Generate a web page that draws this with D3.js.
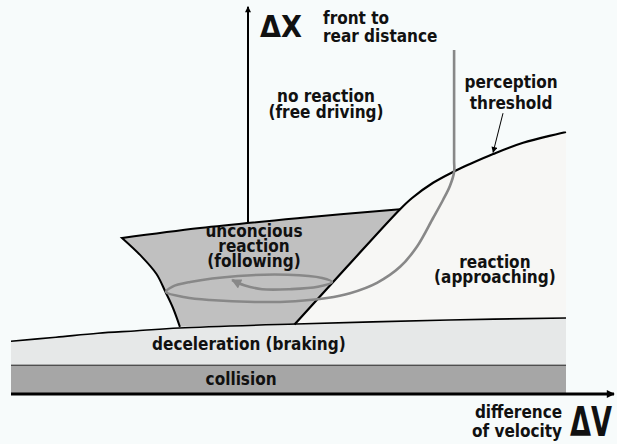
<!DOCTYPE html>
<html>
<head>
<meta charset="utf-8">
<script src="https://cdn.jsdelivr.net/npm/d3@7"></script>
<style>
  body { margin: 0; background: #f7fbfb; }
  svg { display: block; }
  text { font-family: "DejaVu Sans Condensed", "Liberation Sans", sans-serif; font-weight: bold; fill: #111; }
</style>
</head>
<body>
<div id="chart-area"></div>
<script>
// velocity difference (dv) and distance (dx) in arbitrary model units
const decelV = [-7.9, -6.4, -5.0, -3.7, -2.3, 1.6, 6.7, 10.6];
const decelDx = [6.6, 7.1, 7.6, 7.9, 8.25, 8.75, 9.25, 9.5];
const collisionDx = 3.6;

const thresholdV = [1.55, 3.3, 5.07, 5.47, 6.17, 6.83, 7.4, 8.17, 9.17, 10.6];
const thresholdDx = [8.7, 15.9, 23.1, 24.5, 26.4, 27.75, 28.75, 30, 31.4, 32.75];

const followTopV = [-4.2, -1.6, 1.73, 5.07];
const followTopDx = [19.5, 20.75, 22, 23.1];
const followLeftV = [-2.27, -2.5, -2.75, -3.05, -3.55, -4.2];
const followLeftDx = [8.4, 10.75, 12.75, 15.0, 17.2, 19.5];

const pathV = [6.87, 6.87, 6.87, 6.73, 6.5, 6.17, 5.63, 5.07, 4.3, 3.4, 2.63, 1.57, 0.23,
  -1.27, -2.1, -2.73, -2.53, -1.93, -0.33, 1.33, 2.47, 2.8, 2.33, 1.4, 0.47, -0.13, -0.53];
const pathDx = [43, 29.25, 27.75, 26, 24.25, 22, 18.4, 15.9, 13.9, 12.6, 12, 11.6, 11.5,
  11.75, 12.1, 12.75, 13.4, 14, 14.75, 14.9, 14.5, 14, 13.4, 13.1, 13.1, 13.6, 14.25];

const labels = [
  { lines: ["no reaction", "(free driving)"], v: 2.6, dx: 36.5, lh: 16, anchor: "middle" },
  { lines: ["unconcious", "reaction", "(following)"], v: 0.2, dx: 19.6, lh: 15, anchor: "middle" },
  { lines: ["reaction", "(approaching)"], v: 8.23, dx: 15.75, lh: 15, anchor: "middle" },
  { lines: ["perception", "threshold"], v: 8.77, dx: 38.25, lh: 21, anchor: "middle" },
  { lines: ["deceleration (braking)"], v: 0.03, dx: 5.5, lh: 15, anchor: "middle" },
  { lines: ["collision"], v: -0.23, dx: 1.12, lh: 15, anchor: "middle" },
  { lines: ["front to", "rear distance"], v: 2.5, dx: 46.25, lh: 18, anchor: "start" },
  { lines: ["difference", "of velocity"], v: 10.47, dx: -3, lh: 19, anchor: "end" }
];

const chartSize = { width: 617, height: 444 };

const x = d3.scaleLinear().domain([-7.9, 10.6]).range([11, 566]);
const y = d3.scaleLinear().domain([0, 48]).range([394, 10]);

const zip = (vs, ds) => vs.map((v, i) => [v, ds[i]]);

const main = function() {
  const svg = d3
    .select("#chart-area")
    .append("svg")
    .attr("width", chartSize.width)
    .attr("height", chartSize.height);

  const defs = svg.append("defs");
  const marker = (id, w, h, color) =>
    defs.append("marker")
      .attr("id", id)
      .attr("viewBox", "0 0 10 10")
      .attr("refX", 9).attr("refY", 5)
      .attr("markerUnits", "userSpaceOnUse")
      .attr("markerWidth", w).attr("markerHeight", h)
      .attr("orient", "auto")
      .append("path").attr("d", "M0,0L10,5L0,10Z").attr("fill", color);
  marker("axisArrow", 9, 8, "#000");
  marker("yArrow", 8, 6, "#000");
  marker("grayArrow", 12, 10, "#888");
  marker("leadArrow", 7, 6, "#000");

  svg.append("rect")
    .attr("width", chartSize.width).attr("height", chartSize.height)
    .attr("fill", "#f7fbfb");

  const curve = d3.line().x(p => x(p[0])).y(p => y(p[1])).curve(d3.curveCatmullRom);
  const straight = d3.line().x(p => x(p[0])).y(p => y(p[1]));
  const join = (a, b) => a + b.replace(/^M/, "L");

  const decel = zip(decelV, decelDx);
  const threshold = zip(thresholdV, thresholdDx);
  const top = zip(followTopV, followTopDx);
  const left = zip(followLeftV, followLeftDx);

  // reaction (approaching) region
  const decelBack = decel.filter(p => p[0] >= 1.6).reverse();
  svg.append("path")
    .attr("d", join(curve(threshold), straight(decelBack)) + "Z")
    .attr("fill", "#f7f7f5");

  // deceleration band
  svg.append("path")
    .attr("d", join(curve(decel), straight([[10.6, collisionDx], [-7.9, collisionDx]])) + "Z")
    .attr("fill", "#e6e8e8");

  // collision band
  svg.append("rect")
    .attr("x", x(-7.9)).attr("y", y(collisionDx))
    .attr("width", x(10.6) - x(-7.9)).attr("height", y(0) - y(collisionDx))
    .attr("fill", "#a6a6a6");
  svg.append("path")
    .attr("d", straight([[-7.9, collisionDx], [10.6, collisionDx]]))
    .attr("stroke", "#222").attr("stroke-width", 1).attr("fill", "none");

  // y axis
  svg.append("path")
    .attr("d", straight([[0, 20], [0, 48.4]]))
    .attr("stroke", "#000").attr("stroke-width", 2).attr("fill", "none")
    .attr("marker-end", "url(#yArrow)");

  // following region
  const followPath = join(join(curve(left), curve(top)), straight([threshold[2], threshold[0]])) + "Z";
  svg.append("path").attr("d", followPath).attr("fill", "#c0c0c0");
  svg.append("path")
    .attr("d", join(curve(left), curve(top)))
    .attr("stroke", "#000").attr("stroke-width", 2).attr("fill", "none");

  // perception threshold
  svg.append("path")
    .attr("d", curve(threshold))
    .attr("stroke", "#000").attr("stroke-width", 2.2).attr("fill", "none");

  // deceleration boundary
  svg.append("path")
    .attr("d", curve(decel))
    .attr("stroke", "#000").attr("stroke-width", 1.6).attr("fill", "none");

  // x axis
  svg.append("path")
    .attr("d", straight([[-7.9, 0], [12.2, 0]]))
    .attr("stroke", "#000").attr("stroke-width", 3).attr("fill", "none")
    .attr("marker-end", "url(#axisArrow)");

  // vehicle trajectory
  svg.append("path")
    .attr("d", curve(zip(pathV, pathDx)))
    .attr("stroke", "#888").attr("stroke-width", 2.6).attr("fill", "none")
    .attr("marker-end", "url(#grayArrow)");

  // leader to threshold
  svg.append("path")
    .attr("d", straight([[8.5, 35.1], [8.17, 30.2]]))
    .attr("stroke", "#000").attr("stroke-width", 1).attr("fill", "none")
    .attr("marker-end", "url(#leadArrow)");

  labels.forEach(l => {
    const t = svg.append("text")
      .attr("x", x(l.v)).attr("y", y(l.dx))
      .attr("text-anchor", l.anchor)
      .attr("font-size", 17);
    l.lines.forEach((s, i) => {
      t.append("tspan").attr("x", x(l.v)).attr("dy", i ? l.lh : 0).text(s);
    });
  });

  svg.append("text")
    .attr("x", x(0.4)).attr("y", y(44.6))
    .attr("font-size", 30)
    .attr("textLength", 42).attr("lengthAdjust", "spacingAndGlyphs")
    .text("ΔX");
  svg.append("text")
    .attr("x", x(10.73)).attr("y", y(-5.3))
    .attr("font-size", 41)
    .attr("textLength", 42).attr("lengthAdjust", "spacingAndGlyphs")
    .text("ΔV");
};

window.onload = main;
</script>
</body>
</html>
